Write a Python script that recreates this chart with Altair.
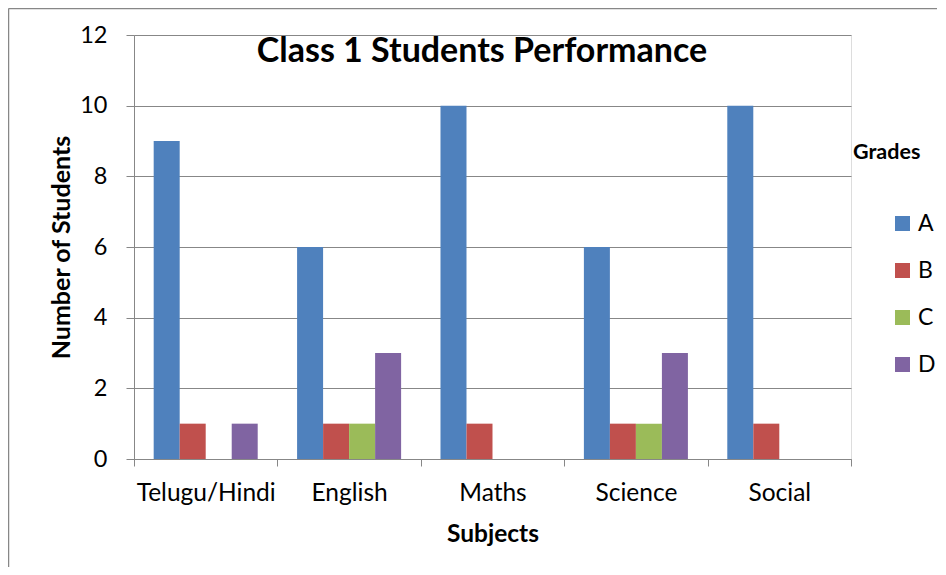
import altair as alt
import pandas as pd

subjects = ["Telugu/Hindi", "English", "Maths", "Science", "Social"]
grades = ["A", "B", "C", "D"]
grade_A = [9, 6, 10, 6, 10]
grade_B = [1, 1, 1, 1, 1]
grade_C = [0, 1, 0, 1, 0]
grade_D = [1, 3, 0, 3, 0]
colors = ["#4F81BD", "#C0504D", "#9BBB59", "#8064A2"]
y_ticks = [0, 2, 4, 6, 8, 10, 12]
title_text = "Class 1 Students Performance"
legend_title = "Grades"

rows = []
for g, vals in zip(grades, [grade_A, grade_B, grade_C, grade_D]):
    for s, v in zip(subjects, vals):
        rows.append({"Subject": s, "Grade": g, "Count": v})
df = pd.DataFrame(rows)

FONT = "Lato"
GRAY = "#878787"
W, H = 717, 424

bars = alt.Chart(df).mark_bar().encode(
    x=alt.X(
        "Subject:N", sort=subjects,
        scale=alt.Scale(paddingInner=0, paddingOuter=0),
        axis=alt.Axis(
            title="Subjects", labelAngle=0, tickBand="extent", tickSize=7,
            labelPadding=15, titlePadding=18, domainColor=GRAY, tickColor=GRAY,
            grid=False, labelFontSize=24.5, titleFontSize=24.5, titleFontWeight="bold",
            labelColor="black", titleColor="black", labelFont=FONT, titleFont=FONT,
        ),
    ),
    xOffset=alt.XOffset("Grade:N", sort=grades,
                        scale=alt.Scale(paddingOuter=0.757, paddingInner=0)),
    y=alt.Y(
        "Count:Q", scale=alt.Scale(domain=[0, 12]),
        axis=alt.Axis(
            values=y_ticks, title="Number of Students", tickSize=8, labelPadding=19,
            titlePadding=5, gridColor=GRAY, domainColor=GRAY, tickColor=GRAY,
            labelFontSize=23.5, titleFontSize=25, titleFontWeight="bold",
            labelColor="black", titleColor="black", labelFont=FONT, titleFont=FONT,
        ),
    ),
    color=alt.Color(
        "Grade:N", sort=grades,
        scale=alt.Scale(domain=grades, range=colors),
        legend=alt.Legend(
            title=None, orient="none", legendX=757, legendY=177,
            symbolType="square", symbolSize=225, symbolStrokeWidth=0,
            labelFontSize=23, labelFont=FONT, labelColor="black",
            rowPadding=23, labelOffset=4,
        ),
    ),
)

one = pd.DataFrame({"t": [title_text], "g": [legend_title]})

title = alt.Chart(one).mark_text(
    font=FONT, fontSize=34, fontWeight="bold", align="center", baseline="middle",
    color="black",
).encode(x=alt.value(348), y=alt.value(17), text="t:N")

gtitle = alt.Chart(one).mark_text(
    font=FONT, fontSize=21.5, fontWeight="bold", align="left", baseline="middle",
    color="black",
).encode(x=alt.value(719), y=alt.value(118), text="g:N")

frame_top = alt.Chart(one).mark_rule(color=GRAY, strokeWidth=1.5).encode(
    x=alt.value(-125.5), x2=alt.value(812), y=alt.value(-26.5)
)
frame_left = alt.Chart(one).mark_rule(color=GRAY, strokeWidth=1.5).encode(
    x=alt.value(-125.5), y=alt.value(-26.5), y2=alt.value(H + 110)
)

chart = alt.layer(bars, title, gtitle, frame_top, frame_left).properties(
    width=W, height=H,
    autosize=alt.AutoSizeParams(type="none"),
    padding={"left": 126, "top": 27, "right": 86, "bottom": 108},
).configure_view(strokeWidth=0).configure(background="white")

chart.save("out.html", embed_options={"renderer": "svg", "actions": False})
